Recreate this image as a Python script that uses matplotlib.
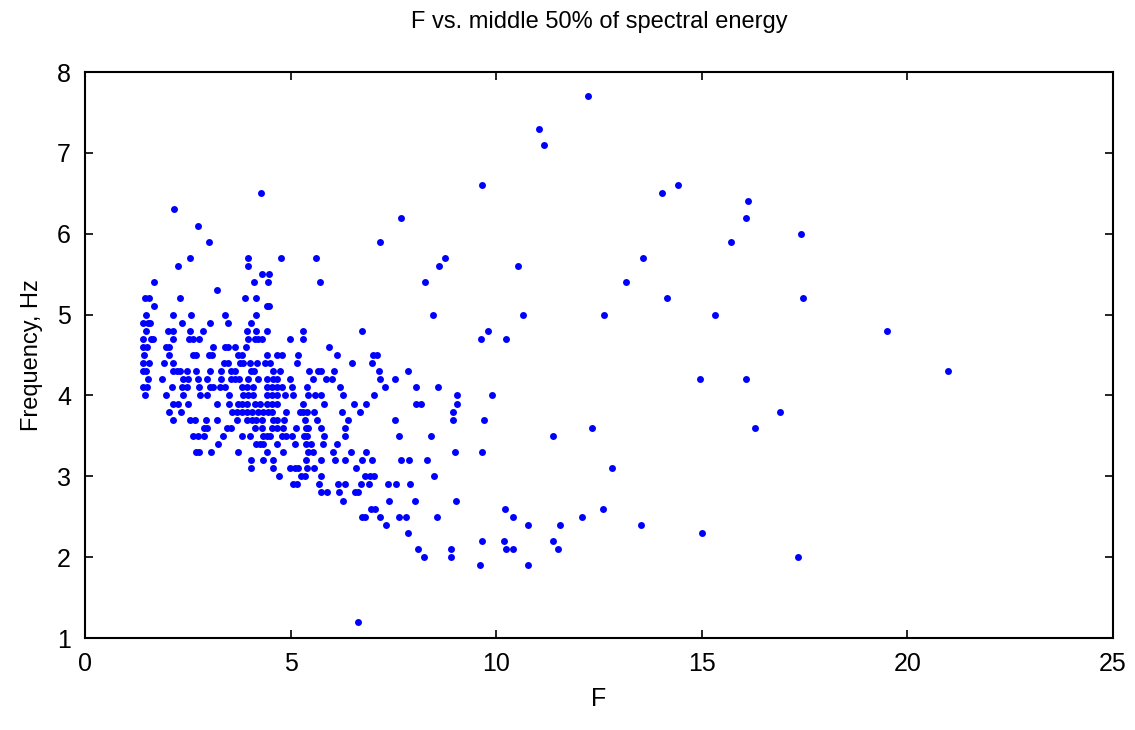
import matplotlib
matplotlib.use("Agg")
import matplotlib.pyplot as plt

# frequency levels (Hz) and the F values found at each level
hz_levels = [7.7, 7.3, 7.1, 6.6, 6.5, 6.4, 6.3, 6.2, 6.1, 6.0, 5.9, 5.7, 5.6,
             5.5, 5.4, 5.3, 5.2, 5.1, 5.0, 4.9, 4.8, 4.7, 4.6, 4.5, 4.4, 4.3,
             4.2, 4.1, 4.0, 3.9, 3.8, 3.7, 3.6, 3.5, 3.4, 3.3, 3.2, 3.1, 3.0,
             2.9, 2.8, 2.7, 2.6, 2.5, 2.4, 2.3, 2.2, 2.1, 2.0, 1.9, 1.2]

f_by_level = [
    [12.23],
    [11.05],
    [11.17],
    [9.65, 14.41],
    [4.27, 14.02],
    [16.12],
    [2.16],
    [7.68, 16.07],
    [2.76],
    [17.41],
    [3.02, 7.18, 15.71],
    [2.55, 3.96, 4.77, 5.61, 8.76, 13.57],
    [2.25, 3.96, 8.61, 10.54],
    [4.30, 4.48],
    [1.68, 4.12, 4.44, 5.72, 8.28, 13.15],
    [3.20],
    [1.45, 1.55, 2.31, 3.88, 4.15, 14.16, 17.46],
    [1.69, 4.42, 4.48],
    [1.48, 2.13, 2.58, 3.41, 4.15, 8.46, 10.66, 12.62, 15.32],
    [1.42, 1.52, 1.58, 2.37, 3.05, 3.47, 4.04],
    [1.48, 2.03, 2.13, 2.55, 2.88, 3.94, 4.15, 4.42, 5.31, 6.74, 9.79, 19.50],
    [1.42, 1.61, 1.66, 2.13, 2.53, 2.63, 2.78, 3.97, 4.13, 4.21, 4.30, 4.99,
     5.31, 9.64, 10.25],
    [1.42, 1.50, 1.96, 2.05, 3.11, 3.41, 3.47, 3.65, 3.92, 5.93],
    [1.44, 2.04, 2.63, 2.69, 3.02, 3.10, 3.73, 3.81, 4.42, 4.66, 4.80, 5.17,
     6.12, 7.01, 7.09],
    [1.40, 1.56, 1.92, 2.15, 3.39, 3.47, 3.77, 3.84, 4.01, 4.18, 4.38, 4.50,
     5.15, 6.50, 6.97],
    [1.40, 1.48, 2.13, 2.23, 2.31, 2.49, 2.70, 3.04, 3.30, 3.55, 3.65, 4.03,
     4.11, 4.56, 4.74, 5.45, 5.67, 5.75, 6.06, 7.16, 7.86, 20.99],
    [1.52, 1.87, 2.39, 2.51, 2.76, 2.97, 3.30, 3.54, 3.66, 3.75, 3.97, 4.20,
     4.42, 4.58, 4.66, 4.99, 5.55, 5.86, 6.01, 7.17, 7.54, 14.96, 16.07],
    [1.40, 1.50, 2.11, 2.35, 2.47, 2.77, 3.04, 3.12, 3.28, 3.40, 3.81, 3.93,
     4.09, 4.42, 4.54, 4.66, 4.78, 5.03, 5.41, 6.20, 7.30, 8.05, 8.58],
    [1.46, 1.96, 2.39, 2.80, 2.96, 3.50, 3.85, 3.97, 4.09, 4.42, 4.54, 4.66,
     4.86, 5.07, 5.43, 5.59, 5.75, 6.27, 7.04, 9.05, 9.91],
    [2.13, 2.27, 2.51, 3.20, 3.49, 3.73, 3.81, 3.93, 4.13, 4.26, 4.42, 4.54,
     4.66, 5.31, 5.82, 6.53, 6.83, 8.05, 8.16, 9.05],
    [2.05, 2.33, 3.57, 3.69, 3.81, 3.93, 4.05, 4.21, 4.34, 4.46, 4.54, 4.90,
     5.23, 5.31, 5.39, 5.58, 6.24, 6.69, 8.96, 16.90],
    [2.15, 2.55, 2.68, 2.94, 3.20, 3.69, 3.95, 4.05, 4.17, 4.30, 4.56, 4.66,
     4.84, 5.35, 5.63, 6.39, 7.54, 8.96, 9.71],
    [2.89, 2.97, 3.46, 3.54, 4.13, 4.30, 4.54, 4.66, 4.82, 5.13, 5.37, 5.43,
     5.75, 6.32, 12.32, 16.30],
    [2.63, 2.76, 2.89, 3.36, 3.83, 4.01, 4.34, 4.42, 4.50, 4.78, 4.90, 5.03,
     5.33, 5.39, 5.81, 6.32, 7.64, 8.41, 11.37],
    [3.24, 4.17, 4.26, 4.34, 4.66, 5.11, 5.37, 5.49, 5.80, 6.12],
    [2.70, 2.78, 3.06, 3.73, 4.43, 4.81, 5.43, 5.55, 6.02, 6.47, 6.83, 9.00,
     9.65],
    [4.04, 4.34, 4.58, 5.37, 5.73, 6.08, 6.32, 6.73, 6.97, 7.68, 7.89, 8.31],
    [4.04, 4.58, 4.99, 5.11, 5.19, 5.39, 5.57, 6.59, 12.82],
    [4.73, 5.25, 5.35, 5.73, 6.81, 6.93, 7.03, 8.49],
    [5.07, 5.15, 5.70, 6.15, 6.32, 6.71, 6.91, 7.36, 7.56, 7.90],
    [5.75, 5.88, 6.18, 6.57, 6.65],
    [6.27, 7.40, 8.03, 9.02],
    [6.95, 7.05, 10.21, 12.59],
    [6.73, 6.81, 7.17, 7.63, 7.81, 8.55, 10.42, 12.09],
    [7.33, 10.78, 11.55, 13.51],
    [7.86, 15.00],
    [9.65, 10.18, 11.37],
    [8.11, 8.91, 10.25, 10.42, 11.50],
    [8.25, 8.91, 17.34],
    [9.61, 10.78],
    [6.65],
]

x_ticks = [0, 5, 10, 15, 20, 25]
y_ticks = [1, 2, 3, 4, 5, 6, 7, 8]

f_vals = []
hz_vals = []
for level, fs in zip(hz_levels, f_by_level):
    f_vals.extend(fs)
    hz_vals.extend([level] * len(fs))

plt.rcParams["font.family"] = ["Liberation Sans", "DejaVu Sans"]

fig = plt.figure(figsize=(11.35, 7.3), dpi=100)
ax = fig.add_axes([85 / 1135, 1 - 638 / 730, (1113 - 85) / 1135, (638 - 72) / 730])

ax.plot(f_vals, hz_vals, "o", color="#0000ff", markersize=5,
        markeredgewidth=0)

ax.set_xlim(0, 25)
ax.set_ylim(1, 8)
ax.set_xticks(x_ticks)
ax.set_yticks(y_ticks)
ax.tick_params(direction="in", top=True, right=True, length=6, width=1.2,
               labelsize=18, pad=10)
for sp in ax.spines.values():
    sp.set_linewidth(1.5)

ax.set_xlabel("F", fontsize=18, labelpad=8)
ax.set_ylabel("Frequency, Hz", fontsize=17, labelpad=10)
fig.text(599 / 1135, 1 - 22 / 730, "F vs. middle 50% of spectral energy",
         ha="center", va="center", fontsize=17)

fig.savefig("out.png", dpi=100)
plt.close(fig)
